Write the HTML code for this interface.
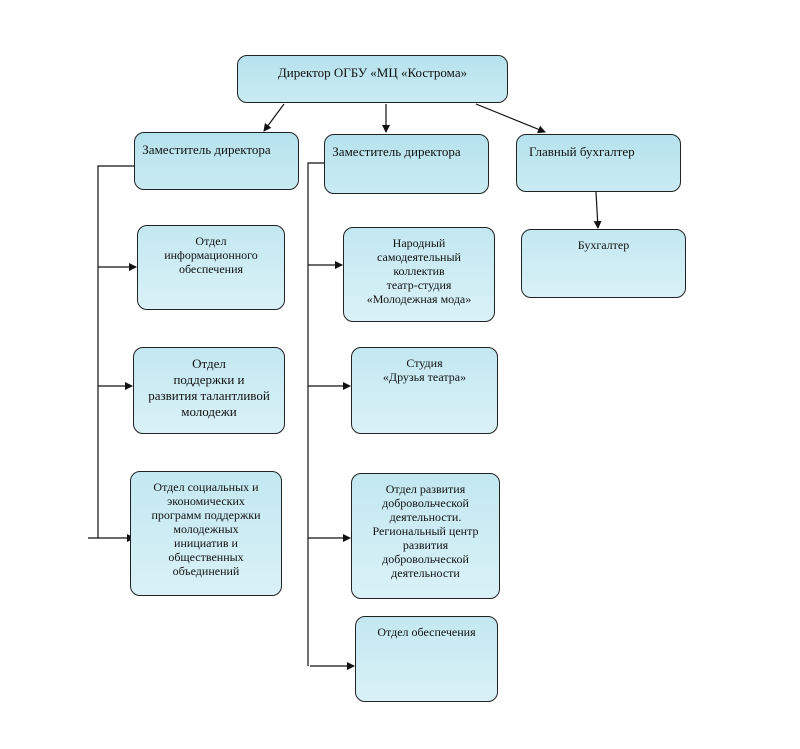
<!DOCTYPE html>
<html><head><meta charset="utf-8"><style>
body{margin:0;background:#fff}
.b{position:absolute;border:1.3px solid #222;border-radius:10px;background:linear-gradient(#c3e8f1,#d9f1f7);font-family:"Liberation Serif",serif;font-size:12px;color:#111;text-align:center;line-height:14px;box-sizing:border-box;padding-top:8px}
.h{background:linear-gradient(#b6e2ed,#c9ebf3);font-size:13px;padding-top:10px}
</style></head><body>
<div style="position:relative;width:800px;height:749px;overflow:hidden">
<svg width="800" height="749" style="position:absolute;left:0;top:0">
<defs><marker id="a" markerWidth="8" markerHeight="8" refX="7" refY="4" orient="auto" markerUnits="userSpaceOnUse"><path d="M0,0 L8,4 L0,8 z" fill="#111"/></marker></defs>
<g stroke="#111" stroke-width="1.2" fill="none">
<line x1="284" y1="104" x2="264" y2="131" marker-end="url(#a)"/>
<line x1="386" y1="104" x2="386" y2="132" marker-end="url(#a)"/>
<line x1="476" y1="104" x2="545" y2="132" marker-end="url(#a)"/>
<line x1="596" y1="192" x2="598" y2="228" marker-end="url(#a)"/>
<polyline points="138,166 98,166 98,538"/>
<line x1="98" y1="267" x2="136" y2="267" marker-end="url(#a)"/>
<line x1="98" y1="386" x2="132" y2="386" marker-end="url(#a)"/>
<line x1="88" y1="538" x2="134" y2="538" marker-end="url(#a)"/>
<polyline points="325,163 308,163 308,666"/>
<line x1="308" y1="265" x2="342" y2="265" marker-end="url(#a)"/>
<line x1="308" y1="386" x2="350" y2="386" marker-end="url(#a)"/>
<line x1="308" y1="538" x2="350" y2="538" marker-end="url(#a)"/>
<line x1="310" y1="666" x2="354" y2="666" marker-end="url(#a)"/>
</g></svg>
<div class="b h" style="left:237px;top:55px;width:271px;height:48px">Директор ОГБУ «МЦ «Кострома»</div>
<div class="b h" style="left:134px;top:132px;width:165px;height:58px;padding-right:20px">Заместитель директора</div>
<div class="b h" style="left:324px;top:134px;width:165px;height:60px;padding-right:20px">Заместитель директора</div>
<div class="b h" style="left:516px;top:134px;width:165px;height:58px;text-align:left;padding-left:12px">Главный бухгалтер</div>
<div class="b" style="left:521px;top:229px;width:165px;height:69px">Бухгалтер</div>
<div class="b" style="left:137px;top:225px;width:148px;height:85px">Отдел<br>информационного<br>обеспечения</div>
<div class="b" style="left:343px;top:227px;width:152px;height:95px">Народный<br>самодеятельный<br>коллектив<br>театр-студия<br>«Молодежная мода»</div>
<div class="b" style="left:133px;top:347px;width:152px;height:87px;font-size:13px;line-height:16px">Отдел<br>поддержки и<br>развития талантливой<br>молодежи</div>
<div class="b" style="left:351px;top:347px;width:147px;height:87px">Студия<br>«Друзья театра»</div>
<div class="b" style="left:130px;top:471px;width:152px;height:125px">Отдел социальных и<br>экономических<br>программ поддержки<br>молодежных<br>инициатив и<br>общественных<br>объединений</div>
<div class="b" style="left:351px;top:473px;width:149px;height:126px">Отдел развития<br>добровольческой<br>деятельности.<br>Региональный центр<br>развития<br>добровольческой<br>деятельности</div>
<div class="b" style="left:355px;top:616px;width:143px;height:86px">Отдел обеспечения</div>
</div></body></html>
